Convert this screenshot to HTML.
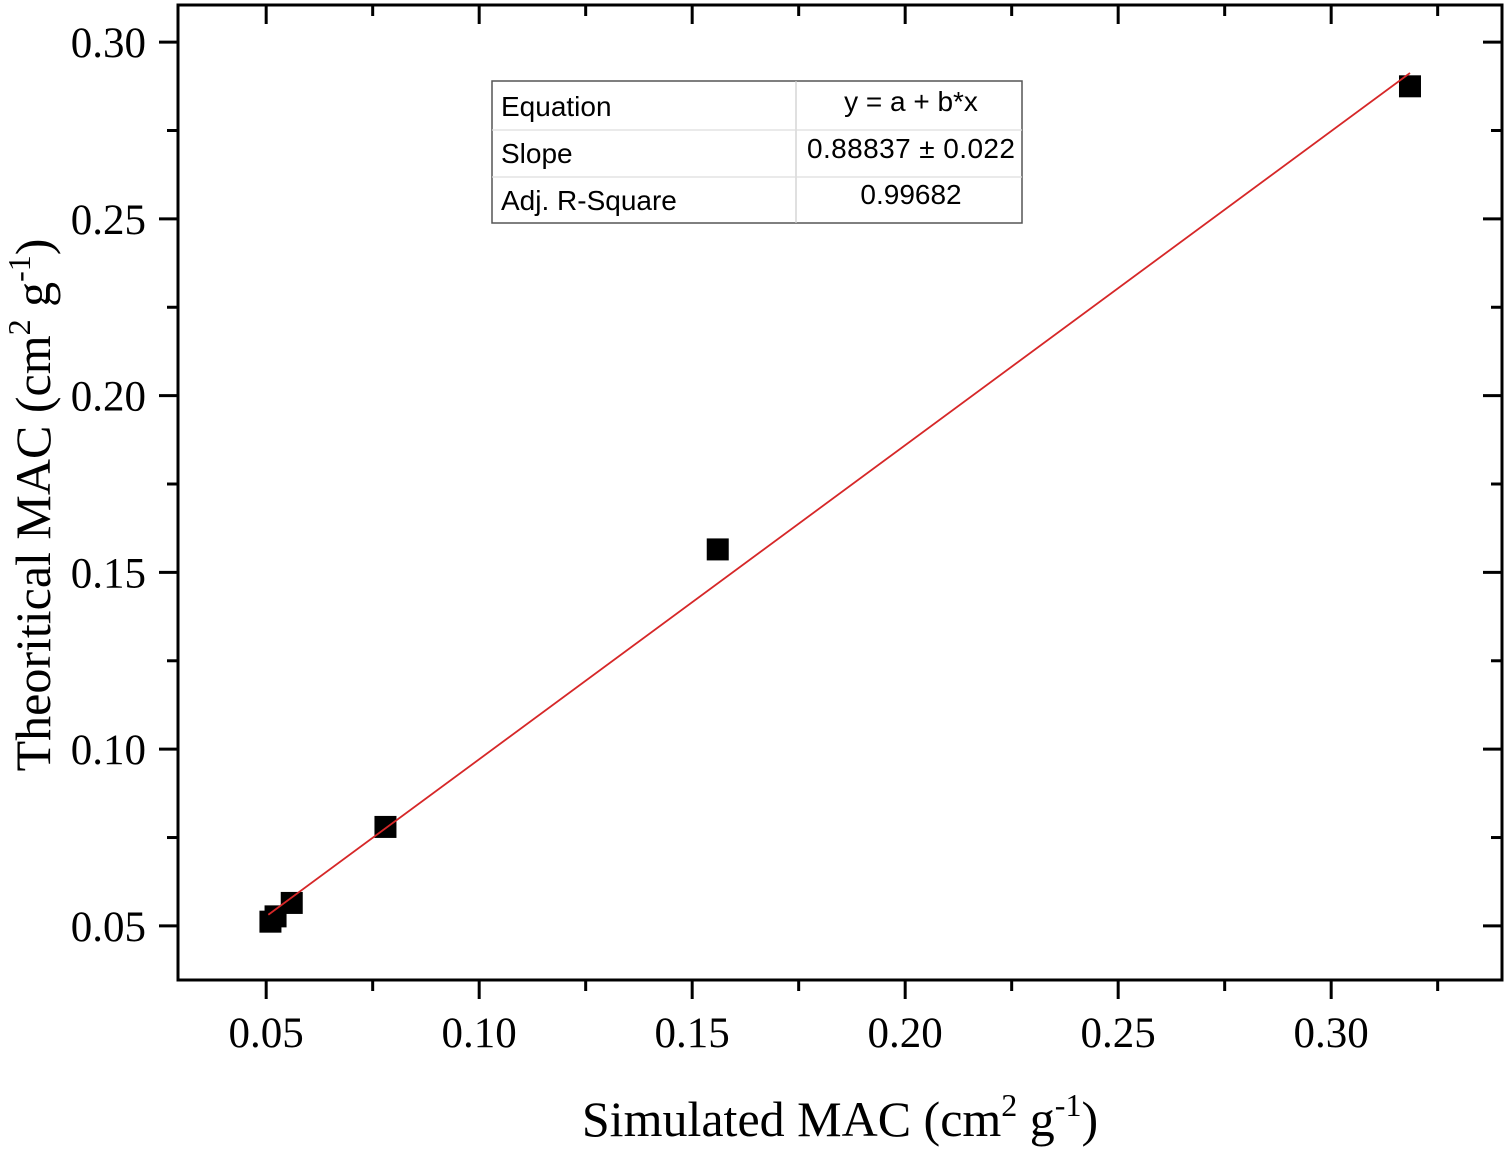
<!DOCTYPE html>
<html><head><meta charset="utf-8"><style>
body{margin:0;background:#fff}
svg text{font-family:"Liberation Serif",serif}
</style></head><body>
<svg id="chart" width="1508" height="1152" viewBox="0 0 1508 1152" xmlns="http://www.w3.org/2000/svg">
<g id="plot"></g>
<g>
<rect x="492" y="81" width="530" height="142" fill="#fff" stroke="#555" stroke-width="1.5"/>
<line x1="796" y1="81" x2="796" y2="223" stroke="#ccc" stroke-width="1.2"/>
<line x1="492" y1="130" x2="1022" y2="130" stroke="#ddd" stroke-width="1.2"/>
<line x1="492" y1="177" x2="1022" y2="177" stroke="#ddd" stroke-width="1.2"/>
<text x="501" y="116" font-size="28" style="font-family:'Liberation Sans',sans-serif">Equation</text>
<text x="911" y="111" font-size="28" text-anchor="middle" style="font-family:'Liberation Sans',sans-serif">y = a + b*x</text>
<text x="501" y="163" font-size="28" style="font-family:'Liberation Sans',sans-serif">Slope</text>
<text x="911" y="158" font-size="28" text-anchor="middle" textLength="208" style="font-family:'Liberation Sans',sans-serif">0.88837 ± 0.022</text>
<text x="501" y="210" font-size="28" style="font-family:'Liberation Sans',sans-serif">Adj. R-Square</text>
<text x="911" y="204" font-size="28" text-anchor="middle" style="font-family:'Liberation Sans',sans-serif">0.99682</text>
</g>
<text x="840" y="1136" font-size="50" text-anchor="middle">Simulated MAC (cm<tspan font-size="32" dy="-20">2</tspan><tspan dy="20"> g</tspan><tspan font-size="32" dy="-20">-1</tspan><tspan dy="20">)</tspan></text>
<text transform="translate(50,505) rotate(-90)" font-size="50" text-anchor="middle">Theoritical MAC (cm<tspan font-size="32" dy="-20">2</tspan><tspan dy="20"> g</tspan><tspan font-size="32" dy="-20">-1</tspan><tspan dy="20">)</tspan></text>
</svg>
<script>
const xTicks=[0.05,0.10,0.15,0.20,0.25,0.30];
const xTickLabels=["0.05","0.10","0.15","0.20","0.25","0.30"];
const yTicks=[0.05,0.10,0.15,0.20,0.25,0.30];
const yTickLabels=["0.05","0.10","0.15","0.20","0.25","0.30"];
const simulated=[0.0510,0.0522,0.0560,0.0780,0.1560,0.3185];
const theoretical=[0.0512,0.0527,0.0565,0.0780,0.1565,0.2875];
const fitIntercept=0.0083;
const fitSlope=0.8884;
const fitRange=[0.0505,0.3185];

const L=178,R=1502,T=5,B=980;
const x0=0.0293,x1=0.3401,y0=0.0347,y1=0.3105;
const sx=v=>L+(v-x0)/(x1-x0)*(R-L);
const sy=v=>B-(v-y0)/(y1-y0)*(B-T);
const NS="http://www.w3.org/2000/svg";
const g=document.getElementById('plot');
function mk(t,a){const e=document.createElementNS(NS,t);for(const k in a)e.setAttribute(k,a[k]);g.appendChild(e);return e;}

const fr=mk('rect',{x:L,y:T,width:R-L,height:B-T,fill:'none',stroke:'#000','stroke-width':3});



for(let i=0;i<xTicks.length;i++){
  const x=sx(xTicks[i]);
  const t=mk('line',{x1:x,y1:B,x2:x,y2:B+19,stroke:'#000','stroke-width':3});
  
  
  const t2=mk('line',{x1:x,y1:T,x2:x,y2:T+19,stroke:'#000','stroke-width':3});
  
  
  const m=xTicks[i]+0.025;
  if(m<x1){const xm=sx(m);
    const a=mk('line',{x1:xm,y1:B,x2:xm,y2:B+11,stroke:'#000','stroke-width':3});
    
    
    const b=mk('line',{x1:xm,y1:T,x2:xm,y2:T+11,stroke:'#000','stroke-width':3});
    
    }
  const lb=mk('text',{x:x,y:1047,'font-size':43,'text-anchor':'middle'});
  lb.textContent=xTickLabels[i];
  
  
}
for(let i=0;i<yTicks.length;i++){
  const y=sy(yTicks[i]);
  const t=mk('line',{x1:L-19,y1:y,x2:L,y2:y,stroke:'#000','stroke-width':3});
  
  
  const t2=mk('line',{x1:R-19,y1:y,x2:R,y2:y,stroke:'#000','stroke-width':3});
  
  
  const m=yTicks[i]+0.025;
  if(m<y1){
    const ym=sy(m);
    const a=mk('line',{x1:L-11,y1:ym,x2:L,y2:ym,stroke:'#000','stroke-width':3});
    
    
    const b=mk('line',{x1:R-11,y1:ym,x2:R,y2:ym,stroke:'#000','stroke-width':3});
    
    
  }
  const lb=mk('text',{x:146,y:y+15,'font-size':43,'text-anchor':'end'});
  lb.textContent=yTickLabels[i];
  
  
}
const fl=mk('line',{x1:sx(fitRange[0]),y1:sy(fitIntercept+fitSlope*fitRange[0]),x2:sx(fitRange[1]),y2:sy(fitIntercept+fitSlope*fitRange[1]),stroke:'#d62728','stroke-width':1.8});


for(let i=0;i<simulated.length;i++){
  const p=mk('rect',{x:sx(simulated[i])-11,y:sy(theoretical[i])-11,width:22,height:22,fill:'#000'});
  
  
}
g.appendChild(fl);
</script>
</body></html>
